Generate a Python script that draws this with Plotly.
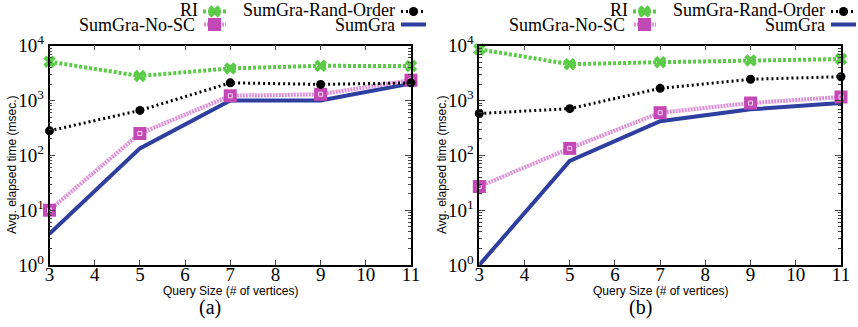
import plotly.graph_objects as go

W, H = 858, 327

x_vals = [3, 5, 7, 9, 11]
x_ticks = [3, 4, 5, 6, 7, 8, 9, 10, 11]
y_tickvals = [1, 10, 100, 1000, 10000]
y_ticktext = ["10<sup>0</sup>", "10<sup>1</sup>", "10<sup>2</sup>", "10<sup>3</sup>", "10<sup>4</sup>"]

# panel (a)
ri_a = [5100, 2800, 3850, 4300, 4250]
rand_a = [280, 660, 2100, 1970, 2100]
nosc_a = [10, 250, 1220, 1300, 2350]
sumgra_a = [3.7, 134, 1000, 1000, 2050]
# panel (b)
ri_b = [8600, 4600, 5000, 5400, 5700]
rand_b = [580, 710, 1670, 2440, 2720]
nosc_b = [27, 134, 600, 900, 1160]
sumgra_b = [1.0, 79, 420, 690, 900]

series_names = ["RI", "SumGra-Rand-Order", "SumGra-No-SC", "SumGra"]
panel_labels = ["(a)", "(b)"]
x_title = "Query Size (# of vertices)"
y_title = "Avg. elapsed time (msec.)"

GREEN = "#5acb46"
BLACK = "#000000"
PINK_LINE = "#dd90d6"
PINK_MK = "#c447b6"
BLUE = "#2e3f9f"
SERIF = "Liberation Serif, Times New Roman, serif"
SANS = "Liberation Sans, Arial, sans-serif"

styles = {
    "RI": dict(line=dict(color=GREEN, width=4, dash="3px,2px"),
               marker=dict(symbol="x", size=11, color=GREEN, line=dict(width=0)), mode="lines+markers"),
    "SumGra-Rand-Order": dict(line=dict(color=BLACK, width=3, dash="2px,3px"),
                              marker=dict(symbol="circle", size=9, color=BLACK), mode="lines+markers"),
    "SumGra-No-SC": dict(line=dict(color=PINK_LINE, width=4),
                         marker=dict(symbol="square", size=13, color=PINK_MK), mode="lines+markers"),
    "SumGra": dict(line=dict(color=BLUE, width=4), mode="lines"),
}
hatch_line = dict(color="white", width=4, dash="1px,2px")

fig = go.Figure()

panels = [
    ("x", "y", {"RI": ri_a, "SumGra-Rand-Order": rand_a, "SumGra-No-SC": nosc_a, "SumGra": sumgra_a}),
    ("x2", "y2", {"RI": ri_b, "SumGra-Rand-Order": rand_b, "SumGra-No-SC": nosc_b, "SumGra": sumgra_b}),
]

draw_order = ["SumGra", "SumGra-No-SC", "SumGra-Rand-Order", "RI"]
for xa, ya, data in panels:
    for name in draw_order:
        st = styles[name]
        if name == "SumGra-No-SC":
            fig.add_trace(go.Scatter(x=x_vals, y=data[name], xaxis=xa, yaxis=ya, mode="lines",
                                     line=st["line"], showlegend=False, cliponaxis=False))
            fig.add_trace(go.Scatter(x=x_vals, y=data[name], xaxis=xa, yaxis=ya, mode="lines",
                                     line=hatch_line, showlegend=False, cliponaxis=False))
            fig.add_trace(go.Scatter(x=x_vals, y=data[name], xaxis=xa, yaxis=ya, mode="markers",
                                     marker=st["marker"], showlegend=False, cliponaxis=False))
            fig.add_trace(go.Scatter(x=x_vals, y=data[name], xaxis=xa, yaxis=ya, mode="markers",
                                     marker=dict(symbol="square-open", size=4, color="#f4d8f0",
                                                 line=dict(width=1)),
                                     showlegend=False, cliponaxis=False))
        else:
            fig.add_trace(go.Scatter(x=x_vals, y=data[name], xaxis=xa, yaxis=ya, name=name,
                                     showlegend=False, cliponaxis=False, **st))

# legend keys (drawn in pixel overlay)
legend_layout = [
    # name, text right edge px, text y px, sample y px, sample start px, sample end px
    ("RI", 200, 9.5, 11.5, 203, 226),
    ("SumGra-Rand-Order", 397, 9.5, 11.5, 401, 426),
    ("SumGra-No-SC", 197, 25, 24.5, 203, 226),
    ("SumGra", 397, 25, 24.5, 401, 426),
]
annotations = []
for off in [0, 430]:
    for name, tx, ty, sy, s0, s1 in legend_layout:
        st = styles[name]
        fig.add_trace(go.Scatter(x=[s0 + off, s1 + off], y=[sy, sy], xaxis="x3", yaxis="y3",
                                 mode="lines", line=st["line"], showlegend=False, hoverinfo="skip"))
        if name == "SumGra-No-SC":
            fig.add_trace(go.Scatter(x=[s0 + off, s1 + off], y=[sy, sy], xaxis="x3", yaxis="y3",
                                     mode="lines", line=hatch_line, showlegend=False, hoverinfo="skip"))
        if "marker" in st:
            fig.add_trace(go.Scatter(x=[(s0 + s1) / 2 + off], y=[sy], xaxis="x3", yaxis="y3",
                                     mode="markers", marker=st["marker"], showlegend=False, hoverinfo="skip"))
        annotations.append(dict(text=name, x=(tx + off) / W, y=1 - ty / H, xref="paper", yref="paper",
                                xanchor="right", yanchor="middle", showarrow=False,
                                font=dict(family=SERIF, size=18, color="black")))

for i, off in enumerate([0, 430]):
    annotations.append(dict(text=x_title, x=(230 + off) / W, y=1 - 291 / H, xref="paper", yref="paper",
                            xanchor="center", yanchor="middle", showarrow=False,
                            font=dict(family=SANS, size=12, color="black")))
    annotations.append(dict(text=panel_labels[i], x=(210 + off) / W, y=1 - 307 / H, xref="paper", yref="paper",
                            xanchor="center", yanchor="middle", showarrow=False,
                            font=dict(family=SERIF, size=20, color="black")))
    annotations.append(dict(text=y_title, x=(12 + off) / W, y=1 - 165 / H, xref="paper", yref="paper",
                            xanchor="center", yanchor="middle", showarrow=False, textangle=-90,
                            font=dict(family=SANS, size=12, color="black")))

minor_vals = [m * 10 ** e for e in range(0, 4) for m in range(2, 10)]
ydom = [1 - 265 / H, 1 - 45.7 / H]
common_x = dict(range=[3, 11], tickvals=x_ticks, ticks="inside", ticklen=5, showline=True,
                linecolor="black", linewidth=1.5, mirror="allticks", showgrid=False, zeroline=False,
                automargin=False, ticklabelstandoff=-9,
                tickfont=dict(family=SERIF, size=19, color="black"))
common_y = dict(type="log", range=[0, 4], tickvals=y_tickvals, ticktext=y_ticktext, ticks="inside",
                ticklen=6, showline=True, linecolor="black", linewidth=1.5, mirror="allticks",
                showgrid=False, zeroline=False, automargin=False,
                minor=dict(tickvals=minor_vals, ticks="inside", ticklen=3, showgrid=False),
                tickfont=dict(family=SERIF, size=19, color="black"))

fig.update_layout(
    width=W, height=H, margin=dict(l=0, r=0, t=0, b=0, autoexpand=False),
    paper_bgcolor="white", plot_bgcolor="rgba(0,0,0,0)",
    font=dict(family=SERIF),
    xaxis=dict(domain=[49.5 / W, 411 / W], anchor="y", **common_x),
    yaxis=dict(domain=ydom, anchor="x", **common_y),
    xaxis2=dict(domain=[479.3 / W, 841 / W], anchor="y2", **common_x),
    yaxis2=dict(domain=ydom, anchor="x2", **common_y),
    xaxis3=dict(domain=[0, 1], range=[0, W], visible=False, anchor="y3", fixedrange=True, automargin=False),
    yaxis3=dict(domain=[0, 1], range=[H, 0], visible=False, anchor="x3", fixedrange=True, automargin=False),
    annotations=annotations,
    showlegend=False,
)

fig.write_html("out.html")
